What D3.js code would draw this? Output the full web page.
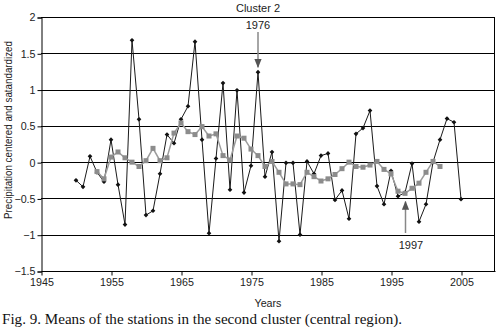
<!DOCTYPE html>
<html><head><meta charset="utf-8">
<script src="https://cdn.jsdelivr.net/npm/d3@7"></script>
<style>body{margin:0;background:#fff}svg{display:block}</style>
</head><body>
<svg id="c" width="497" height="333"></svg>
<script>
const years = d3.range(1950, 2006);
const annualValues = [-0.25,-0.34,0.08,-0.14,-0.27,0.31,-0.31,-0.86,1.68,0.59,
 -0.73,-0.67,-0.16,0.38,0.26,0.59,0.77,1.66,0.31,-0.98,
 0.05,1.09,-0.38,0.99,-0.42,-0.05,1.24,-0.20,0.14,-1.09,
 -0.01,-0.01,-1.00,0.01,-0.16,0.09,0.12,-0.52,-0.39,-0.78,
 0.39,0.47,0.71,-0.33,-0.58,-0.12,-0.47,-0.42,-0.02,-0.82,
 -0.58,0.00,0.31,0.60,0.55,-0.51];
const smoothYears = d3.range(1953, 2003);
const smoothValues = [-0.13,-0.23,0.07,0.14,0.06,0.00,-0.06,0.02,0.19,0.02,
 0.06,0.40,0.54,0.42,0.38,0.49,0.36,0.39,0.09,0.03,
 0.36,0.33,0.18,0.09,-0.06,0.01,-0.14,-0.30,-0.30,-0.31,
 -0.14,-0.20,-0.26,-0.23,-0.17,-0.09,0.00,-0.06,-0.07,-0.04,
 0.01,-0.10,-0.16,-0.40,-0.43,-0.36,-0.29,-0.14,0.01,-0.06];
const xTicks = [1945,1955,1965,1975,1985,1995,2005];
const yTicks = [-1.5,-1,-0.5,0,0.5,1,1.5,2];
const annotations = [{year:1976, label:"1976", value:1.24},{year:1997, label:"1997", value:-0.42}];

const svg = d3.select("#c");
const L=41, R=496, T=17, B=271;
const x = d3.scaleLinear().domain([1945,2010]).range([L,R]);
const y = d3.scaleLinear().domain([-1.5,2]).range([B,T]);
const font = "Liberation Sans, Arial, sans-serif";

// gridlines
svg.append("g").selectAll("line").data(yTicks.filter(v=>v>-1.5)).join("line")
  .attr("x1",L).attr("x2",R-1).attr("y1",d=>Math.round(y(d))+0.5).attr("y2",d=>Math.round(y(d))+0.5)
  .attr("stroke","#000").attr("stroke-width",1);
// right border
svg.append("line").attr("x1",R-1.5).attr("x2",R-1.5).attr("y1",T).attr("y2",B).attr("stroke","#000").attr("stroke-width",1);

// axes
const yAxis = d3.axisLeft(y).tickValues(yTicks).tickSize(4).tickPadding(2)
  .tickFormat(d=>d3.format("")(d).replace("-","\u2212"));
const gy = svg.append("g").attr("transform",`translate(${L+0.5},0.5)`).call(yAxis);
const xAxis = d3.axisBottom(x).tickValues(xTicks).tickSize(4).tickPadding(3).tickFormat(d3.format("d"));
const gx = svg.append("g").attr("transform",`translate(0.5,${Math.round(B)+0.5})`).call(xAxis);
[gx,gy].forEach(g=>{
  g.selectAll(".domain").attr("stroke","#000");
  g.selectAll(".tick line").attr("stroke","#000");
  g.selectAll("text").attr("font-family",font).attr("font-size","10.7px").attr("fill","#222");
});
gx.select(".domain").attr("d",`M${L},0H${R-1}`);

// black series
const annual = years.map((yr,i)=>({yr, v:annualValues[i]}));
const line = d3.line().x(d=>x(d.yr)).y(d=>y(d.v));
svg.append("path").datum(annual).attr("d",line).attr("fill","none").attr("stroke","#1a1a1a").attr("stroke-width",1);
svg.append("g").selectAll("path").data(annual).join("path")
  .attr("d",d3.symbol(d3.symbolDiamond2,14))
  .attr("transform",d=>`translate(${x(d.yr)},${y(d.v)})`).attr("fill","#111");

// gray series
const smooth = smoothYears.map((yr,i)=>({yr, v:smoothValues[i]}));
svg.append("path").datum(smooth).attr("d",line).attr("fill","none").attr("stroke","#9c9c9c").attr("stroke-width",1.5);
svg.append("g").selectAll("rect").data(smooth).join("rect")
  .attr("x",d=>x(d.yr)-2.5).attr("y",d=>y(d.v)-2.5).attr("width",5).attr("height",5).attr("fill","#8c8c8c");

// annotations
const defs = svg.append("defs");
defs.append("marker").attr("id","ah").attr("viewBox","0 0 10 10").attr("refX",9).attr("refY",5)
  .attr("markerWidth",6).attr("markerHeight",6).attr("orient","auto")
  .append("path").attr("d","M0,1L10,5L0,9Z").attr("fill","#555");
const a1 = annotations[0], a2 = annotations[1];
svg.append("line").attr("x1",x(a1.year)).attr("x2",x(a1.year)).attr("y1",32).attr("y2",y(a1.value)-5)
  .attr("stroke","#888").attr("stroke-width",1.5).attr("marker-end","url(#ah)");
svg.append("text").attr("x",x(a1.year)).attr("y",29).attr("text-anchor","middle")
  .attr("font-family",font).attr("font-size","11px").attr("fill","#222").text(a1.label);
svg.append("line").attr("x1",x(a2.year)+0.5).attr("x2",x(a2.year)+0.5).attr("y1",233).attr("y2",y(a2.value)+9)
  .attr("stroke","#888").attr("stroke-width",1.5).attr("marker-end","url(#ah)");
svg.append("text").attr("x",x(a2.year)+6).attr("y",249).attr("text-anchor","middle")
  .attr("font-family",font).attr("font-size","11px").attr("fill","#222").text(a2.label);

// titles
svg.append("text").attr("x",258).attr("y",12).attr("text-anchor","middle")
  .attr("font-family",font).attr("font-size","11px").attr("fill","#222").text("Cluster 2");
svg.append("text").attr("x",268).attr("y",307).attr("text-anchor","middle")
  .attr("font-family",font).attr("font-size","10.7px").attr("fill","#222").text("Years");
svg.append("text").attr("transform","translate(12,130) rotate(-90)").attr("text-anchor","middle")
  .attr("font-family",font).attr("font-size","10px").attr("fill","#222")
  .attr("textLength",178).attr("lengthAdjust","spacingAndGlyphs")
  .text("Precipitation centered and satandardized");
svg.append("text").attr("x",2).attr("y",323.5)
  .attr("font-family","Liberation Serif, Times New Roman, serif").attr("font-size","14.5px").attr("fill","#111")
  .attr("textLength",400).attr("lengthAdjust","spacingAndGlyphs")
  .text("Fig. 9. Means of the stations in the second cluster (central region).");
</script>
</body></html>
